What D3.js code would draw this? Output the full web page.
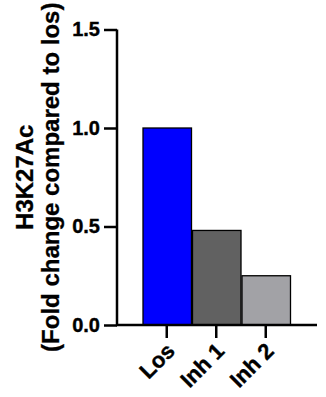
<!DOCTYPE html>
<html><head><meta charset="utf-8">
<script src="https://cdn.jsdelivr.net/npm/d3@7"></script>
<style>html,body{margin:0;padding:0;background:#fff;}svg{display:block;}</style>
</head><body>
<svg id="c" width="326" height="397"></svg>
<script>
const categories = ["Los", "Inh 1", "Inh 2"];
const values = [1.0, 0.48, 0.25];
const colors = ["#0000ff", "#616161", "#a2a2a6"];
const yTicks = [0.0, 0.5, 1.0, 1.5];
const titleLines = ["H3K27Ac", "(Fold change compared to los)"];

const svg = d3.select("#c");
const font = "'Liberation Sans', Arial, sans-serif";
const y = d3.scaleLinear().domain([0, 1.5]).range([325, 29.5]);
const x = d3.scaleBand().domain(categories).range([142, 290.5]).padding(0);

svg.selectAll("rect.bar").data(categories).enter().append("rect")
  .attr("class", "bar")
  .attr("x", d => x(d) + 1)
  .attr("width", x.bandwidth() - 1)
  .attr("y", (d, i) => y(values[i]))
  .attr("height", (d, i) => y(0) - y(values[i]))
  .attr("fill", (d, i) => colors[i])
  .attr("stroke", "#000").attr("stroke-width", 1.3);

const yAxis = svg.append("g").attr("transform", "translate(117,0)")
  .call(d3.axisLeft(y).tickValues(yTicks).tickFormat(d3.format(".1f")).tickSize(13).tickPadding(4));
yAxis.select(".domain").attr("stroke-width", 2.5).attr("d", `M0,${y(1.5)}V${y(0)}`);
yAxis.selectAll(".tick line").attr("stroke-width", 2.5);
yAxis.selectAll("text").attr("font-family", font).attr("font-weight", "bold").attr("font-size", 20)
  .attr("fill", "#000").attr("stroke", "#000").attr("stroke-width", 0.4);

const xAxis = svg.append("g").attr("transform", `translate(0,${y(0)})`)
  .call(d3.axisBottom(x).tickSize(13).tickFormat(""));
xAxis.select(".domain").attr("stroke-width", 2.5).attr("d", "M116,0H317");
xAxis.selectAll(".tick line").attr("stroke-width", 2.5);
xAxis.selectAll(".tick").append("text")
  .attr("transform", "translate(4,22) rotate(-45)")
  .attr("text-anchor", "end")
  .attr("dy", "0.35em")
  .attr("fill", "#000").attr("stroke", "#000").attr("stroke-width", 0.4)
  .attr("font-family", font).attr("font-weight", "bold").attr("font-size", 22)
  .text(d => d);

const t = svg.append("text")
  .attr("transform", `translate(0,${(y(0) + y(1.5)) / 2}) rotate(-90)`)
  .attr("text-anchor", "middle")
  .attr("font-family", font).attr("font-weight", "bold").attr("font-size", 24)
  .attr("fill", "#000").attr("stroke", "#000").attr("stroke-width", 0.3);
t.selectAll("tspan").data(titleLines).enter().append("tspan")
  .attr("x", 0).attr("y", (d, i) => 33 + i * 26)
  .text(d => d);
</script>
</body></html>
